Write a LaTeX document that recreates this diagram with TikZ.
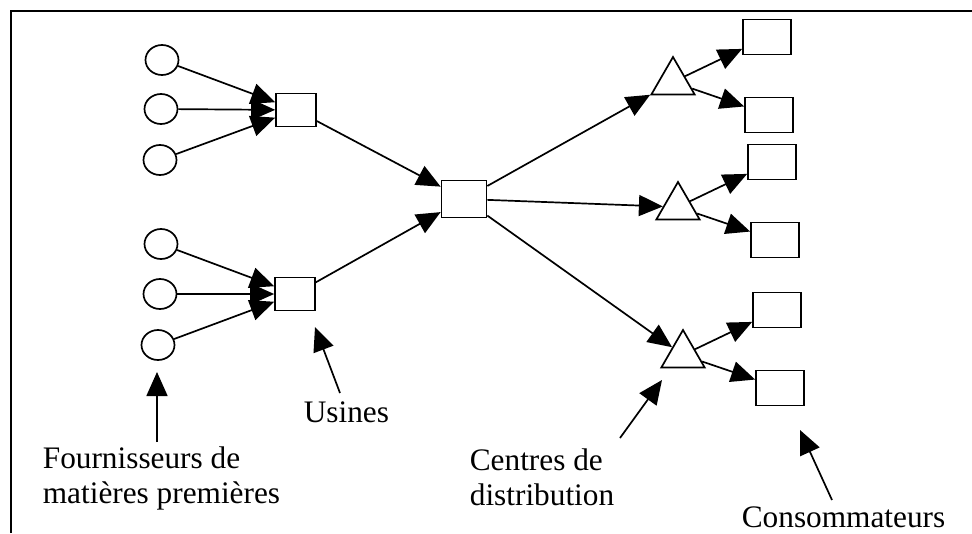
\documentclass[tikz,border=0pt]{standalone}
\usepackage{fontspec}
\setmainfont{Liberation Serif}
\usetikzlibrary{arrows.meta,shapes.geometric}

\begin{document}
\begin{tikzpicture}[x=1pt,y=-1pt,line width=1.7pt,
	fourn/.style={draw,ellipse,inner sep=0pt,minimum width=33pt,minimum height=30pt},
	boite/.style={draw,rectangle,inner sep=0pt,minimum width=48pt,minimum height=35pt},
	depot/.style={draw,regular polygon,regular polygon sides=3,inner sep=0pt,minimum size=50pt},
	fleche/.style={-{Triangle[length=24pt,width=21pt]}},
	etiq/.style={font=\fontsize{31.3}{35}\selectfont,inner sep=0pt,align=left}]
	\useasboundingbox (0,0) rectangle (972,533);
	%	\draw[lightgray] (0,0) grid[step=50] (972,533);
	\draw (11,533)--(11,11)--(972,11); % cadre
	
	% fournisseurs
	\node[fourn] (f1) at (162,60) {};
	\node[fourn] (f2) at (161,109) {};
	\node[fourn] (f3) at (160,160) {};
	\node[fourn] (f4) at (161,244) {};
	\node[fourn] (f5) at (160,294) {};
	\node[fourn] (f6) at (158,345) {};
	
	% usines
	\node[boite, minimum width=40pt, minimum height=33pt] (u1) at (296,110) {};
	\node[boite, minimum width=40pt, minimum height=33pt] (u2) at (295,294) {};
	\node[boite, minimum width=45pt, minimum height=37pt] (u0) at (464,199) {};
	
	% centres de distribution
	\node[depot] (d1) at (673,82) {};
	\node[depot] (d2) at (678,207) {};
	\node[depot] (d3) at (683,355) {};
	
	% consommateurs
	\node[boite] (c1) at (767,37) {};
	\node[boite] (c2) at (769,115) {};
	\node[boite] (c3) at (772,162) {};
	\node[boite] (c4) at (775,240) {};
	\node[boite] (c5) at (777,310) {};
	\node[boite] (c6) at (780,388) {};
	
	\foreach \f in {f1,f2,f3} \draw[fleche] (\f)--(u1);
	\foreach \f in {f4,f5,f6} \draw[fleche] (\f)--(u2);
	\draw[fleche] (u1)--(u0);
	\draw[fleche] (u2)--(u0);
	\foreach \d in {d1,d2,d3} \draw[fleche] (u0)--(\d);
	\draw[fleche] (d1)--(c1);
	\draw[fleche] (d1)--(c2);
	\draw[fleche] (d2)--(c3);
	\draw[fleche] (d2)--(c4);
	\draw[fleche] (d3)--(c5);
	\draw[fleche] (d3)--(c6);
	
	% etiquettes
	\node[etiq, anchor=north west] (tfourn) at (42,446) {Fournisseurs de\\matières premières};
	\node[etiq, anchor=base west] (tusines) at (303,422) {Usines};
	\node[etiq, anchor=north west] (tcentres) at (469,448) {Centres de\\distribution};
	\node[etiq, anchor=base west] (tconso) at (741,527) {Consommateurs};
	
	\coordinate (pf1) at (157,442); \coordinate (pf2) at (157,372);
	\coordinate (pu1) at (340,393); \coordinate (pu2) at (315,327);
	\coordinate (pd1) at (620,438); \coordinate (pd2) at (662,380);
	\coordinate (pc1) at (832,500); \coordinate (pc2) at (800,430);
	\draw[fleche] (pf1)--(pf2);
	\draw[fleche] (pu1)--(pu2);
	\draw[fleche] (pd1)--(pd2);
	\draw[fleche] (pc1)--(pc2);
\end{tikzpicture}
\end{document}
